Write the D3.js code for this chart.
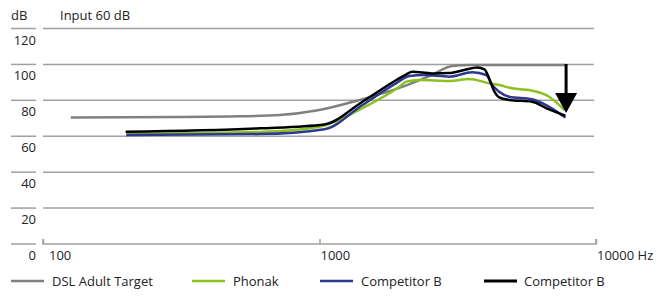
<!DOCTYPE html>
<html>
<head>
<meta charset="utf-8">
<script src="https://cdn.jsdelivr.net/npm/d3@7"></script>
<style>
  body { margin: 0; background: #fff; }
  svg text { font-family: "Open Sans", "Noto Sans", sans-serif; font-size: 13px; fill: #222; }
</style>
</head>
<body>
<svg id="chart" width="669" height="297"></svg>
<script>
// frequency (Hz) / level (dB)
const dslFreq   = [126, 312, 473, 717, 975, 1395, 1945, 2495, 3021, 3479, 7795];
const dslDb     = [70.5, 70.7, 71.0, 71.8, 74.3, 80.2, 86.9, 93.5, 99.1, 99.7, 99.7];

const phonakFreq = [200, 607, 1000, 1430, 1945, 2062, 2297, 2946, 3479, 4108, 4465, 4976, 5731, 6767, 7700];
const phonakDb   = [61.4, 62.4, 65.3, 75.7, 87.6, 90.4, 91.3, 90.8, 91.9, 89.5, 88.5, 86.7, 85.7, 82.0, 74.5];

const compBFreq = [200, 607, 1042, 1430, 1897, 2113, 2394, 2946, 3567, 4009, 4212, 4465, 4852, 5875, 6767, 7750];
const compBDb   = [60.7, 61.2, 63.9, 77.4, 89.6, 93.5, 94.1, 93.2, 95.6, 94.1, 88.5, 84.8, 82.0, 80.6, 76.4, 70.4];

const compKFreq = [199, 607, 1042, 1430, 1897, 2062, 2166, 2557, 2946, 3338, 3719, 3950, 4108, 4270, 4465, 4852, 5875, 6600, 7750];
const compKDb   = [62.5, 64.4, 66.6, 79.2, 91.3, 94.5, 95.9, 95.0, 95.2, 96.9, 98.3, 97.3, 92.2, 85.5, 81.7, 80.2, 79.2, 75.7, 71.5];

const yTicks = [0, 20, 40, 60, 80, 100, 120];
const xTicks = [100, 1000, 10000];
const xTickLabels = ["100", "1000", "10000 Hz"];

const arrowFreq = 7795, arrowFrom = 99.7, arrowTo = 73;

const legendNames  = ["DSL Adult Target", "Phonak", "Competitor B", "Competitor B"];
const legendColors = ["#808080", "#8cc11f", "#2b3990", "#000000"];

const svg = d3.select("#chart");

const x = d3.scaleLog().domain([100, 10000]).range([43, 596]);
const y = d3.scaleLinear().domain([0, 120]).range([244, 28.5]);

// grid lines + the little stub under each y label
yTicks.forEach(t => {
    svg.append("line")
        .attr("x1", 11).attr("x2", 36)
        .attr("y1", y(t)).attr("y2", y(t))
        .attr("stroke", "#a0a0a0").attr("stroke-width", 1.5);
    svg.append("text")
        .attr("x", 36).attr("y", y(t) + 16)
        .attr("text-anchor", "end")
        .text(t);
    if (t > 0) {
        svg.append("line")
            .attr("x1", x(100)).attr("x2", 594)
            .attr("y1", y(t)).attr("y2", y(t))
            .attr("stroke", "#a0a0a0").attr("stroke-width", 1.5);
    }
});

// x axis
const xAxis = d3.axisTop(x).tickValues(xTicks).tickSize(5).tickFormat("");
const gx = svg.append("g").attr("transform", `translate(0,${y(0)})`).call(xAxis);
gx.select(".domain").attr("stroke", "#a0a0a0").attr("stroke-width", 1.5)
    .attr("d", `M${x(100)},-5V0H${x(10000)}V-5`);
gx.selectAll(".tick line").attr("stroke", "#a0a0a0").attr("stroke-width", 1.5);

xTicks.forEach((t, i) => {
    svg.append("text")
        .attr("x", x(t) + (i == 0 ? 6 : 1)).attr("y", y(0) + 16)
        .text(xTickLabels[i]);
});

svg.append("text").attr("x", 11).attr("y", 20).text("dB");
svg.append("text").attr("x", 60).attr("y", 20).text("Input 60 dB");

const line = d3.line()
    .x(d => x(d[0]))
    .y(d => y(d[1]))
    .curve(d3.curveMonotoneX);

const series = [
    [dslFreq, dslDb, legendColors[0]],
    [phonakFreq, phonakDb, legendColors[1]],
    [compBFreq, compBDb, legendColors[2]],
    [compKFreq, compKDb, legendColors[3]]
];

series.forEach(s => {
    svg.append("path")
        .datum(s[0].map((f, i) => [f, s[1][i]]))
        .attr("fill", "none")
        .attr("stroke", s[2])
        .attr("stroke-width", 2.5)
        .attr("stroke-linejoin", "round")
        .attr("d", line);
});

// the arrow
const ax = x(arrowFreq);
svg.append("line")
    .attr("x1", ax).attr("x2", ax)
    .attr("y1", y(arrowFrom) - 1).attr("y2", y(arrowTo) - 16)
    .attr("stroke", "#000").attr("stroke-width", 3);
svg.append("path")
    .attr("d", `M${ax - 11},${y(arrowTo) - 20}L${ax + 11},${y(arrowTo) - 20}L${ax},${y(arrowTo)}Z`)
    .attr("fill", "#000");

// legend
const legendX = [11, 192, 320, 484];
legendNames.forEach((n, i) => {
    svg.append("line")
        .attr("x1", legendX[i]).attr("x2", legendX[i] + 33)
        .attr("y1", 281).attr("y2", 281)
        .attr("stroke", legendColors[i]).attr("stroke-width", i == 3 ? 3 : 2.5);
    svg.append("text")
        .attr("x", legendX[i] + (i == 3 ? 40 : 41)).attr("y", 286)
        .text(n);
});
</script>
</body>
</html>
